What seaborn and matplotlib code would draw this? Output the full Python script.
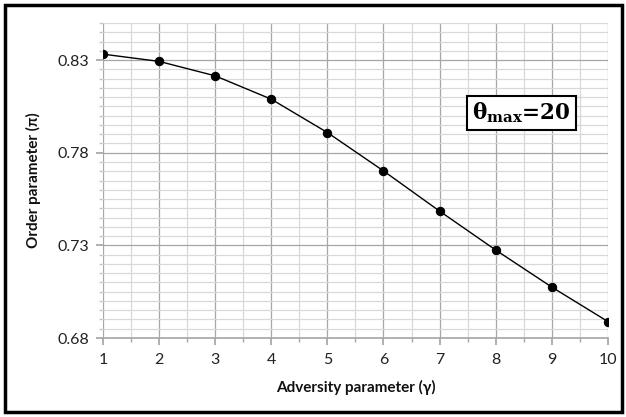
import numpy as np
import pandas as pd
import matplotlib
matplotlib.use("Agg")
import matplotlib.pyplot as plt
import seaborn as sns
from matplotlib.ticker import MultipleLocator, FixedLocator
from matplotlib.patches import Rectangle

gamma = [1, 2, 3, 4, 5, 6, 7, 8, 9, 10]
order_param = [0.8332, 0.8293, 0.8215, 0.8089, 0.7909, 0.7702, 0.7485, 0.7275, 0.7075, 0.6889]
y_ticks = [0.68, 0.73, 0.78, 0.83]
x_label = "Adversity parameter (\u03b3)"
y_label = "Order parameter (\u03c0)"

sns.set_theme(style="white")
plt.rcParams['font.family'] = ['Lato', 'DejaVu Sans']
plt.rcParams['mathtext.fontset'] = 'dejavuserif'

df = pd.DataFrame({"gamma": gamma, "pi": order_param})

fig = plt.figure(figsize=(6.26, 4.17), dpi=100)
ax = fig.add_axes([0.1645, 0.1894, 0.8065, 0.7554])

sns.lineplot(data=df, x="gamma", y="pi", ax=ax, color="black", linewidth=1.0,
             marker="o", markersize=6, markeredgecolor="black", markerfacecolor="black")

ax.set_xlim(1, 10)
ax.set_ylim(0.68, 0.85)
ax.xaxis.set_major_locator(FixedLocator(gamma))
ax.xaxis.set_minor_locator(MultipleLocator(0.5))
ax.yaxis.set_major_locator(FixedLocator(y_ticks))
ax.yaxis.set_minor_locator(MultipleLocator(0.005))
ax.set_yticklabels([f"{v:.2f}" for v in y_ticks])

ax.grid(which="major", color="#A6A6A6", linewidth=0.9)
ax.grid(which="minor", color="#D9D9D9", linewidth=0.9)
ax.set_axisbelow(True)
for s in ["top", "right", "left"]:
    ax.spines[s].set_visible(False)
ax.spines["bottom"].set_color("#A6A6A6")
ax.spines["bottom"].set_linewidth(1.2)

ax.tick_params(axis="x", which="major", direction="out", length=5, color="#A6A6A6",
               bottom=True, labelsize=11.5, labelcolor="#222222", pad=6)
ax.tick_params(axis="x", which="minor", direction="out", length=3, color="#A6A6A6", bottom=True)
ax.tick_params(axis="y", which="major", direction="out", length=5, color="#A6A6A6",
               left=True, labelsize=11.5, labelcolor="#222222", pad=5)
ax.tick_params(axis="y", which="minor", direction="out", length=3, color="#C8C8C8", left=True)

ax.set_xlabel(x_label, fontsize=11, fontweight="bold", labelpad=9, color="#111111")
ax.set_ylabel(y_label, fontsize=11, fontweight="bold", labelpad=12, color="#111111")

ax.text(8.46, 0.8016, "\u03b8$_{\\mathbf{max}}$=20", transform=ax.transData,
        fontsize=15.5, fontfamily="DejaVu Serif", fontweight="bold",
        ha="center", va="center", color="black",
        bbox=dict(boxstyle="square,pad=0.22", facecolor="white", edgecolor="black", linewidth=1.5))

fig.patches.append(Rectangle((0.008, 0.012), 0.986, 0.975, transform=fig.transFigure,
                             fill=False, edgecolor="black", linewidth=2.5))

fig.savefig("out.png", dpi=100)
